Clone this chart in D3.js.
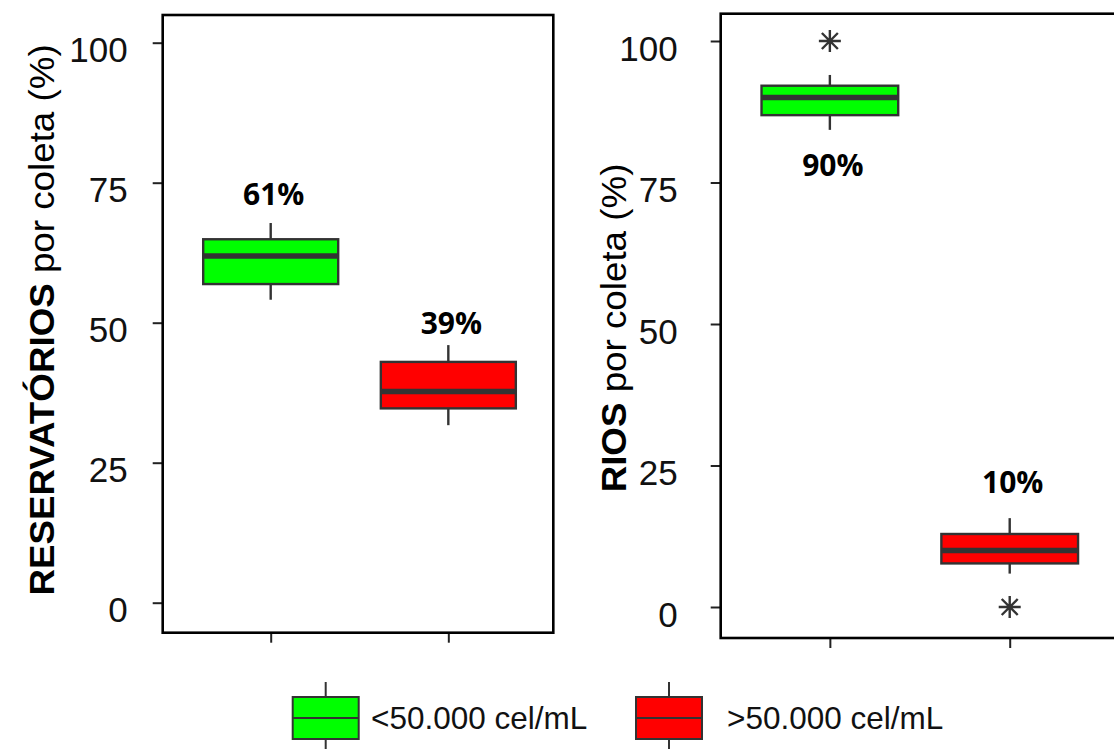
<!DOCTYPE html>
<html>
<head>
<meta charset="utf-8">
<script src="https://cdn.jsdelivr.net/npm/d3@7"></script>
<style>
html,body{margin:0;padding:0;background:#fff;}
svg{display:block;}
</style>
</head>
<body>
<svg id="chart" width="1114" height="749"></svg>
<script>
// ---------- DATA ----------
const categories = ["<50.000 cel/mL", ">50.000 cel/mL"];
const yTicks = [0, 25, 50, 75, 100];

// Reservatórios panel (five-number summaries per category)
const resMin = [54.1, 31.7];
const resQ1  = [56.9, 34.7];
const resMed = [61.9, 37.7];
const resQ3  = [64.9, 43.0];
const resMax = [67.8, 46.0];
const resOutliers = [[], []];
const resLabels = ["61%", "39%"];
const resLabelAt = [71.0, 48.0];

// Rios panel
const rioMin = [84.3, 5.9];
const rioQ1  = [86.9, 7.7];
const rioMed = [90.0, 10.0];
const rioQ3  = [92.1, 12.9];
const rioMax = [94.0, 15.7];
const rioOutliers = [[100], [0]];
const rioLabels = ["90%", "10%"];
const rioLabelAt = [76.1, 20.1];

const fills = ["#00ff00", "#ff0000"];

// ---------- LAYOUT ----------
const svg = d3.select("#chart");
const ink = "#333333";

const panels = [
  {
    boldTitle: "RESERVATÓRIOS", title: " por coleta (%)",
    min: resMin, q1: resQ1, med: resMed, q3: resQ3, max: resMax, out: resOutliers,
    labels: resLabels, labelAt: resLabelAt,
    x: d3.scaleLinear().domain([0.392, 2.591]).range([162.7, 553.3]),
    y: d3.scaleLinear().domain([0, 100]).range([602.7, 42.7]),
    frameTop: 15, frameBottom: 632.7, tickPad: 25, titleX: 54, titleY: 320
  },
  {
    boldTitle: "RIOS", title: " por coleta (%)",
    min: rioMin, q1: rioQ1, med: rioMed, q3: rioQ3, max: rioMax, out: rioOutliers,
    labels: rioLabels, labelAt: rioLabelAt,
    x: d3.scaleLinear().domain([0.393, 2.591]).range([720.7, 1116]),
    y: d3.scaleLinear().domain([0, 100]).range([607, 41]),
    frameTop: 13.7, frameBottom: 638, tickPad: 33, titleX: 626, titleY: 328
  }
];

const boxW = 0.76;

panels.forEach(p => {
  const g = svg.append("g");
  const [x0, x1] = p.x.range();

  // y axis
  const ya = g.append("g")
    .attr("transform", `translate(${x0},0)`)
    .call(d3.axisLeft(p.y).tickValues(yTicks).tickSize(10).tickPadding(p.tickPad).tickFormat(d3.format("d")));
  ya.select(".domain").remove();
  ya.selectAll(".tick line").attr("stroke", "#222").attr("stroke-width", 2);
  ya.selectAll(".tick text")
    .attr("font-family", "Liberation Sans, Arial, sans-serif")
    .attr("font-size", 35).attr("fill", "#111").attr("dy", "0.55em");

  // x axis ticks
  const xa = g.append("g")
    .attr("transform", `translate(0,${p.frameBottom})`)
    .call(d3.axisBottom(p.x).tickValues([1, 2]).tickSize(10).tickFormat(""));
  xa.select(".domain").remove();
  xa.selectAll(".tick line").attr("stroke", "#222").attr("stroke-width", 2);

  // frame
  g.append("rect")
    .attr("x", x0).attr("y", p.frameTop)
    .attr("width", x1 - x0).attr("height", p.frameBottom - p.frameTop)
    .attr("fill", "none").attr("stroke", "#000").attr("stroke-width", 2.6);

  // boxes
  categories.forEach((c, i) => {
    const cx = p.x(i + 1);
    const bl = p.x(i + 1 - boxW / 2), br = p.x(i + 1 + boxW / 2);
    // whiskers
    g.append("line").attr("x1", cx).attr("x2", cx)
      .attr("y1", p.y(p.q3[i])).attr("y2", p.y(p.max[i]))
      .attr("stroke", ink).attr("stroke-width", 2.4);
    g.append("line").attr("x1", cx).attr("x2", cx)
      .attr("y1", p.y(p.q1[i])).attr("y2", p.y(p.min[i]))
      .attr("stroke", ink).attr("stroke-width", 2.4);
    // box
    g.append("rect")
      .attr("x", bl).attr("y", p.y(p.q3[i]))
      .attr("width", br - bl).attr("height", p.y(p.q1[i]) - p.y(p.q3[i]))
      .attr("fill", fills[i]).attr("stroke", ink).attr("stroke-width", 2.4);
    // median
    g.append("line").attr("x1", bl).attr("x2", br)
      .attr("y1", p.y(p.med[i])).attr("y2", p.y(p.med[i]))
      .attr("stroke", ink).attr("stroke-width", 5.5);
    // outliers (pch 8 style)
    p.out[i].forEach(v => {
      const oy = p.y(v), r = 11, d = 8;
      g.append("path")
        .attr("d", `M${cx - r},${oy}H${cx + r}M${cx},${oy - r}V${oy + r}M${cx - d},${oy - d}L${cx + d},${oy + d}M${cx - d},${oy + d}L${cx + d},${oy - d}`)
        .attr("stroke", ink).attr("stroke-width", 2.4).attr("fill", "none");
    });
    // label
    g.append("text")
      .attr("x", cx + 3).attr("y", p.y(p.labelAt[i]))
      .attr("text-anchor", "middle")
      .attr("font-family", "Open Sans, DejaVu Sans, sans-serif")
      .attr("font-weight", 700).attr("font-size", 30).attr("fill", "#000")
      .text(p.labels[i]);
  });

  // y title
  const t = g.append("text")
    .attr("transform", `translate(${p.titleX},${p.titleY}) rotate(-90) scale(1.05,1)`)
    .attr("text-anchor", "middle")
    .attr("font-family", "Liberation Sans, Arial, sans-serif")
    .attr("font-size", 35).attr("fill", "#000");
  t.append("tspan").attr("font-weight", 700).text(p.boldTitle);
  t.append("tspan").text(p.title);
});

// ---------- LEGEND ----------
const legendX = [292.7, 636];
const legendTextX = [371, 727];
const lg = svg.append("g");
categories.forEach((c, i) => {
  const bx = legendX[i], bw = 66, by = 697, bh = 42, mx = bx + bw / 2;
  lg.append("line").attr("x1", mx).attr("x2", mx).attr("y1", 682).attr("y2", 749)
    .attr("stroke", ink).attr("stroke-width", 2);
  lg.append("rect").attr("x", bx).attr("y", by).attr("width", bw).attr("height", bh)
    .attr("fill", fills[i]).attr("stroke", ink).attr("stroke-width", 2);
  lg.append("line").attr("x1", bx).attr("x2", bx + bw).attr("y1", by + bh / 2).attr("y2", by + bh / 2)
    .attr("stroke", ink).attr("stroke-width", 2);
  lg.append("text").attr("x", legendTextX[i]).attr("y", by + bh / 2 + 11)
    .attr("font-family", "Liberation Sans, Arial, sans-serif")
    .attr("font-size", 31.5).attr("fill", "#111")
    .text(c);
});
</script>
</body>
</html>
